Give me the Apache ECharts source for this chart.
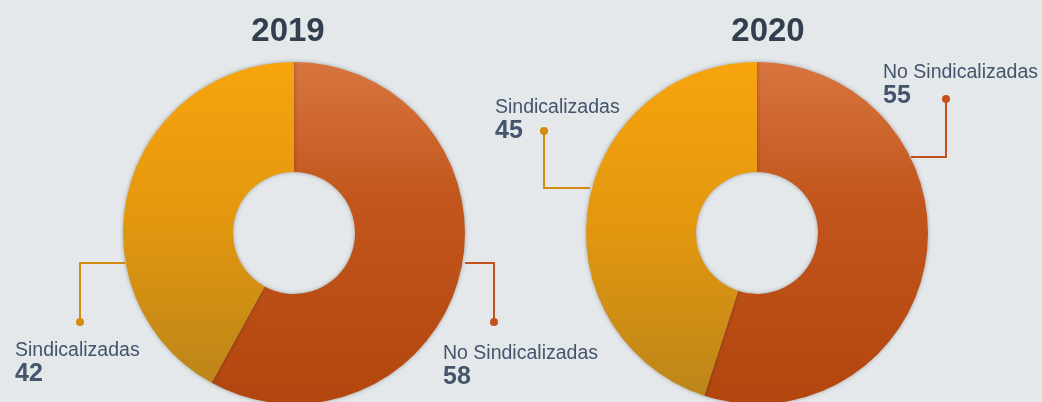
<!DOCTYPE html>
<html>
<head>
<meta charset="utf-8">
<script src="https://cdn.jsdelivr.net/npm/echarts@6/dist/echarts.min.js"></script>
<style>
html,body{margin:0;padding:0;background:#e4e8eb;}
#c{width:1042px;height:402px;}
</style>
</head>
<body>
<div id="c"></div>
<script>
const years = ['2019', '2020'];
const categories = ['No Sindicalizadas', 'Sindicalizadas'];
const values2019 = [58, 42];
const values2020 = [55, 45];

const FONT = "'Liberation Sans', Arial, sans-serif";
const TEXT = '#44546a';
const ORANGE_LINE = '#c4501a';
const YELLOW_LINE = '#d48c10';

const orangeGrad = {type:'linear',x:0,y:0,x2:0,y2:1,colorStops:[{offset:0,color:'#d8753f'},{offset:0.4,color:'#c2561c'},{offset:1,color:'#b3460e'}]};
const yellowGrad = {type:'linear',x:0,y:0,x2:0,y2:1,colorStops:[{offset:0,color:'#f7a40d'},{offset:0.5,color:'#e2970f'},{offset:1,color:'#bd8519'}]};

// label layout: [seriesIndex][dataIndex] -> label box and callout line
const calloutLayout = [
  [ {x:443, y:341, pts:[[465,263],[494,263],[494,322]]},
    {x:15,  y:338, pts:[[125,263],[80,263],[80,322]]} ],
  [ {x:883, y:60,  pts:[[911,157],[946,157],[946,99]]},
    {x:495, y:95,  pts:[[590,188],[544,188],[544,131]]} ]
];
const centers = [[294,233],[757,233]];

function makeSeries(vals, idx) {
  return {
    type:'pie',
    center: centers[idx],
    radius:[61,171],
    startAngle:90,
    clockwise:true,
    avoidLabelOverlap:false,
    emphasis:{disabled:true},
    itemStyle:{shadowBlur:4, shadowColor:'rgba(0,0,0,0.3)'},
    label:{
      show:true,
      position:'outside',
      formatter: p => '{n|' + p.name + '}\n{v|' + p.value + '}',
      rich:{
        n:{fontFamily:FONT, fontSize:19.5, lineHeight:25, color:TEXT},
        v:{fontFamily:FONT, fontSize:25, fontWeight:'bold', lineHeight:22, color:TEXT}
      },
      align:'left'
    },
    labelLine:{show:true, lineStyle:{width:2}},
    labelLayout: function(p){
      const L = calloutLayout[idx][p.dataIndex];
      return {x:L.x, y:L.y, align:'left', verticalAlign:'top', labelLinePoints:L.pts};
    },
    data: categories.map((c,i)=>({
      name:c, value:vals[i],
      itemStyle:{color: i===0 ? orangeGrad : yellowGrad},
      labelLine:{lineStyle:{color: i===0 ? ORANGE_LINE : YELLOW_LINE, width:2}}
    }))
  };
}

const dots = [];
calloutLayout.forEach(s => s.forEach((L, i) => {
  const end = L.pts[L.pts.length-1];
  dots.push({type:'circle', shape:{cx:end[0], cy:end[1], r:4}, style:{fill: i===0 ? ORANGE_LINE : YELLOW_LINE}, z:100});
}));

const chart = echarts.init(document.getElementById('c'), null, {renderer:'canvas'});
chart.setOption({
  backgroundColor:'#e4e8eb',
  animation:false,
  title: years.map((y, i) => ({
    text:y, left: i===0 ? 283 : 763, top:10, textAlign:'center',
    textStyle:{fontFamily:FONT, fontSize:33, fontWeight:'bold', color:'#333f4f'}
  })),
  graphic: dots,
  series:[makeSeries(values2019,0), makeSeries(values2020,1)]
});
</script>
</body>
</html>
